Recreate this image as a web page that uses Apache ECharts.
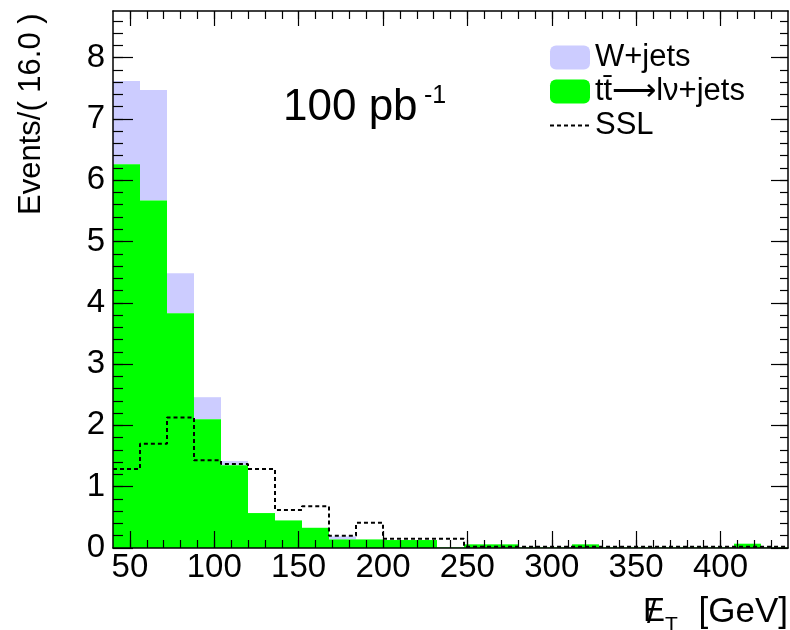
<!DOCTYPE html>
<html>
<head>
<meta charset="utf-8">
<script src="https://cdn.jsdelivr.net/npm/echarts@6/dist/echarts.min.js"></script>
<style>
html, body { margin: 0; padding: 0; background: #fff; }
#chart { width: 790px; height: 630px; }
</style>
</head>
<body>
<div id="chart"></div>
<script>
// histogram bins, 16 GeV wide
var binLow = [40, 56, 72, 88, 104, 120, 136, 152, 168, 184, 200, 216, 232,
              248, 264, 280, 296, 312, 328, 344, 360, 376, 392, 408, 424];
var binWidth = 16;

// events per bin
var ttbar = [6.26, 5.67, 3.83, 2.10, 1.35, 0.57, 0.45, 0.33, 0.14, 0.14, 0.13, 0.13, 0.01,
             0.06, 0.06, 0.01, 0.01, 0.06, 0.01, 0.01, 0.01, 0.01, 0.01, 0.07, 0.01];
var wjets = [1.36, 1.80, 0.65, 0.36, 0.07, 0, 0, 0, 0.05, 0, 0, 0, 0,
             0, 0, 0, 0, 0, 0, 0, 0, 0, 0, 0, 0];
var ssl   = [1.29, 1.70, 2.13, 1.43, 1.37, 1.29, 0.62, 0.68, 0.20, 0.41, 0.15, 0.15, 0.15,
             0.02, 0.02, 0.02, 0.02, 0.02, 0.02, 0.02, 0.02, 0.02, 0.02, 0.02, 0.02];

var xTickLabels = [50, 100, 150, 200, 250, 300, 350, 400];
var yTickLabels = [0, 1, 2, 3, 4, 5, 6, 7, 8];

var FONT = '"Liberation Sans", Arial, sans-serif';
var xMin = 40, xMax = 440, yMin = 0, yMax = 8.76;
var TT_NAME = 't\u0074\u0304\u27f6l\u03bd+jets';

var xMinor = [];
for (var v = 50; v < xMax; v += 10) xMinor.push(v);
var yMinor = [];
for (var k = 1; k * 0.2 < yMax; k++) yMinor.push(Math.round(k * 2) / 10);

var chart = echarts.init(document.getElementById('chart'));

function histItem(params, api) {
    var lo = api.value(0), h = api.value(1), base = api.value(2);
    if (!h) return;
    var p0 = api.coord([lo, base]);
    var p1 = api.coord([lo + binWidth, base + h]);
    var x0 = Math.round(p0[0]), x1 = Math.round(p1[0]);
    return {
        type: 'rect',
        shape: { x: x0, y: p1[1], width: x1 - x0, height: p0[1] - p1[1] },
        style: { fill: api.visual('color') }
    };
}

function xAx(pos, len, major) {
    return {
        type: 'value', position: pos, min: xMin, max: xMax, z: 10,
        axisLine: { show: major, onZero: false, lineStyle: { color: '#000', width: 1.5 } },
        axisTick: { show: true, inside: true, length: len, customValues: major ? xTickLabels : xMinor,
                    lineStyle: { color: '#000', width: 1.2 } },
        axisLabel: {
            show: major && pos === 'bottom', customValues: xTickLabels, margin: 3,
            color: '#000', fontFamily: FONT, fontSize: 33
        },
        splitLine: { show: false }
    };
}
function yAx(pos, len, major) {
    return {
        type: 'value', position: pos, min: yMin, max: yMax, z: 10,
        axisLine: { show: major, onZero: false, lineStyle: { color: '#000', width: 1.5 } },
        axisTick: { show: true, inside: true, length: len, customValues: major ? yTickLabels : yMinor,
                    lineStyle: { color: '#000', width: 1.2 } },
        axisLabel: {
            show: major && pos === 'left', customValues: yTickLabels, margin: 8,
            color: '#000', fontFamily: FONT, fontSize: 33
        },
        splitLine: { show: false }
    };
}

var option = {
    backgroundColor: '#fff',
    animation: false,
    grid: { left: 113, top: 11, right: 2, bottom: 82 },
    xAxis: [xAx('bottom', 17, true), xAx('bottom', 8, false), xAx('top', 15, true), xAx('top', 8, false)],
    yAxis: [yAx('left', 20, true), yAx('left', 10, false), yAx('right', 17, true), yAx('right', 8, false)],
    legend: {
        orient: 'vertical', left: 544, top: 37,
        itemWidth: 40, itemHeight: 24, itemGap: 3,
        textStyle: { color: '#000', fontFamily: FONT, fontSize: 31 },
        data: [
            { name: 'W+jets', icon: 'roundRect' },
            { name: TT_NAME, icon: 'roundRect' },
            { name: 'SSL', itemStyle: { opacity: 0 } }
        ]
    },
    series: [
        {
            name: 'W+jets', type: 'custom', renderItem: histItem, z: 2,
            itemStyle: { color: '#ccccff' },
            data: binLow.map(function (b, i) { return [b, wjets[i], ttbar[i]]; })
        },
        {
            name: TT_NAME, type: 'custom', renderItem: histItem, z: 3,
            itemStyle: { color: '#00ff00' },
            data: binLow.map(function (b, i) { return [b, ttbar[i], 0]; })
        },
        {
            name: 'SSL', type: 'line', step: 'end', symbol: 'none', z: 4,
            itemStyle: { color: '#000' },
            lineStyle: { color: '#000', width: 2, type: [4, 3] },
            data: binLow.map(function (b, i) { return [b, ssl[i]]; })
                        .concat([[xMax, ssl[ssl.length - 1]]])
        }
    ],
    graphic: [
        { type: 'text', x: 283, y: 108, style: { text: '100 pb', fontFamily: FONT, fontSize: 44,
          fill: '#000', textAlign: 'left', textVerticalAlign: 'middle' } },
        { type: 'text', x: 424, y: 96, style: { text: '-1', fontFamily: FONT, fontSize: 25,
          fill: '#000', textAlign: 'left', textVerticalAlign: 'middle' } },
        { type: 'text', x: 31, y: 215, rotation: Math.PI / 2, style: { text: 'Events/( 16.0 )',
          fontFamily: FONT, fontSize: 31, fill: '#000', textAlign: 'left', textVerticalAlign: 'middle' } },
        { type: 'text', x: 643, y: 612, style: { text: 'E', fontFamily: FONT, fontSize: 33,
          fill: '#000', textAlign: 'left', textVerticalAlign: 'middle' } },
        { type: 'text', x: 647, y: 614, style: { text: '/', fontFamily: FONT, fontSize: 34,
          fill: '#000', textAlign: 'left', textVerticalAlign: 'middle' } },
        { type: 'text', x: 665, y: 625, style: { text: 'T', fontFamily: FONT, fontSize: 21,
          fill: '#000', textAlign: 'left', textVerticalAlign: 'middle' } },
        { type: 'text', x: 788, y: 612, style: { text: '[GeV]', fontFamily: FONT, fontSize: 35,
          fill: '#000', textAlign: 'right', textVerticalAlign: 'middle' } }
    ]
};

chart.setOption(option);
</script>
</body>
</html>
